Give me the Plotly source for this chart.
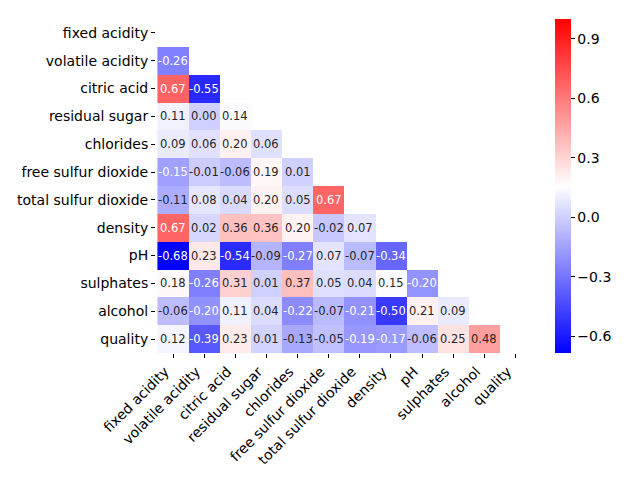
import plotly.graph_objects as go

labels = ["fixed acidity", "volatile acidity", "citric acid", "residual sugar",
          "chlorides", "free sulfur dioxide", "total sulfur dioxide", "density",
          "pH", "sulphates", "alcohol", "quality"]

# lower triangle rows (values below the diagonal)
row_fixed_acidity = []
row_volatile_acidity = [-0.256]
row_citric_acid = [0.672, -0.552]
row_residual_sugar = [0.114, 0.002, 0.144]
row_chlorides = [0.094, 0.061, 0.204, 0.056]
row_free_so2 = [-0.154, -0.011, -0.061, 0.187, 0.006]
row_total_so2 = [-0.113, 0.076, 0.036, 0.203, 0.047, 0.668]
row_density = [0.668, 0.022, 0.365, 0.356, 0.201, -0.022, 0.071]
row_ph = [-0.683, 0.235, -0.542, -0.086, -0.265, 0.070, -0.066, -0.342]
row_sulphates = [0.183, -0.261, 0.313, 0.006, 0.371, 0.052, 0.043, 0.149, -0.197]
row_alcohol = [-0.062, -0.202, 0.110, 0.042, -0.221, -0.069, -0.206, -0.496, 0.206, 0.094]
row_quality = [0.124, -0.391, 0.226, 0.014, -0.129, -0.051, -0.186, -0.175, -0.058, 0.251, 0.476]

rows = [row_fixed_acidity, row_volatile_acidity, row_citric_acid, row_residual_sugar,
        row_chlorides, row_free_so2, row_total_so2, row_density, row_ph,
        row_sulphates, row_alcohol, row_quality]

zmin, zmax = -0.683, 1.0
cbar_ticks = [-0.6, -0.3, 0.0, 0.3, 0.6, 0.9]

n = len(labels)
z = [r + [None] * (n - len(r)) for r in rows]


def rgb_at(v):
    t = (v - zmin) / (zmax - zmin)
    if t < 0.5:
        s = t / 0.5
        return (s, s, 1.0)
    s = (t - 0.5) / 0.5
    return (1.0, 1 - s, 1 - s)


def lum(c):
    def f(x):
        return x / 12.92 if x <= 0.03928 else ((x + 0.055) / 1.055) ** 2.4
    r, g, b = c
    return 0.2126 * f(r) + 0.7152 * f(g) + 0.0722 * f(b)


fig = go.Figure(go.Heatmap(
    z=z, x=labels, y=labels, zmin=zmin, zmax=zmax,
    colorscale=[[0, "rgb(0,0,255)"], [0.5, "rgb(255,255,255)"], [1, "rgb(255,0,0)"]],
    hoverongaps=False, xgap=0, ygap=0,
    colorbar=dict(x=(555 - 156) / 375, xanchor="left", xref="paper", xpad=0, ypad=0,
                  y=0.5, yanchor="middle",
                  len=1.0, lenmode="fraction", thickness=16, outlinewidth=0,
                  tickvals=cbar_ticks, tickformat=".1f", ticks="outside",
                  ticklen=4, tickcolor="black",
                  tickfont=dict(family="DejaVu Sans", size=14, color="black")),
))

annotations = []
for i, r in enumerate(rows):
    for j, v in enumerate(r):
        col = "white" if lum(rgb_at(v)) <= 0.408 else "#262626"
        annotations.append(dict(x=labels[j], y=labels[i], text=f"{v:.2f}".replace("-0.00", "0.00"),
                                showarrow=False,
                                font=dict(family="DejaVu Sans", size=11.5, color=col)))

fig.update_layout(
    width=640, height=480,
    margin=dict(l=156, r=109, t=19, b=127, autoexpand=False),
    paper_bgcolor="white", plot_bgcolor="white",
    annotations=annotations,
    font=dict(family="DejaVu Sans", size=14, color="black"),
    xaxis=dict(tickangle=-45, ticks="outside", ticklen=4, tickcolor="black",
               ticklabelshift=-8,
               showgrid=False, zeroline=False, showline=False, automargin=False,
               tickfont=dict(family="DejaVu Sans", size=14, color="black")),
    yaxis=dict(autorange="reversed", ticks="outside", ticklen=4, tickcolor="black",
               showgrid=False, zeroline=False, showline=False, automargin=False,
               tickfont=dict(family="DejaVu Sans", size=14, color="black")),
)

fig.write_html("out.html", config={"displayModeBar": False},
               post_script="document.body.style.margin='0';")
